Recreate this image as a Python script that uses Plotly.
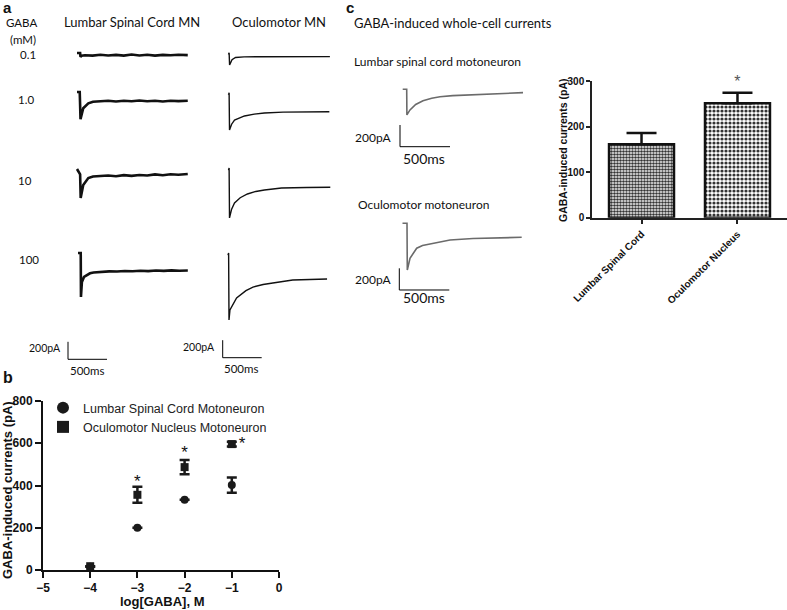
import plotly.graph_objects as go

W, H = 787, 610

# ---------------- Data ----------------
# Panel a: example current traces (time in ms, current in pA relative to holding level)
L01_T = [0, 40, 45, 60, 100, 200, 300, 400, 500, 600, 700, 800, 900, 1000, 1100, 1200, 1300, 1420]
L01_I = [0, 0, -45, -30, -25, -30, -20, -28, -22, -30, -18, -28, -20, -30, -22, -26, -20, -24]
L1_T = [0, 35, 40, 45, 80, 145, 205, 300, 400, 500, 600, 700, 800, 900, 1000, 1100, 1200, 1300, 1420]
L1_I = [0, 0, -150, -310, -186, -130, -111, -105, -100, -108, -100, -106, -98, -106, -100, -108, -100, -104, -100]
L10_T = [0, 20, 40, 47, 80, 145, 205, 300, 400, 500, 600, 700, 800, 900, 1000, 1100, 1200, 1300, 1420]
L10_I = [0, -40, -60, -330, -183, -103, -85, -80, -75, -82, -70, -78, -68, -75, -62, -72, -60, -66, -57]
L100_T = [0, 35, 38, 50, 77, 115, 154, 200, 282, 400, 500, 600, 700, 800, 900, 1000, 1100, 1200, 1300, 1408]
L100_I = [0, 0, -503, -330, -274, -250, -232, -222, -214, -210, -212, -205, -208, -203, -207, -200, -204, -198, -202, -200]

O01_T = [0, 8, 14, 45, 90, 200, 400, 600, 800, 1000, 1300]
O01_I = [-20, 0, -140, -80, -55, -48, -46, -45, -46, -44, -45]
O1_T = [0, 8, 13, 40, 77, 140, 205, 330, 460, 700, 1000, 1293]
O1_I = [-25, 0, -426, -360, -312, -285, -266, -245, -232, -222, -218, -217]
O10_T = [0, 8, 13, 40, 77, 150, 243, 350, 460, 680, 1000, 1305]
O10_I = [-25, 0, -571, -470, -400, -340, -297, -268, -251, -229, -222, -220]
O100_T = [0, 8, 13, 25, 110, 155, 230, 320, 450, 575, 830, 1270]
O100_I = [-25, 0, -766, -650, -514, -480, -430, -389, -360, -343, -309, -297]

# Panel c: example traces
CL_T = [0, 40, 42, 73, 130, 203, 290, 373, 500, 703, 900, 1100, 1203]
CL_I = [0, 0, -236, -190, -140, -105, -82, -68, -58, -50, -40, -35, -31]
CO_T = [0, 45, 48, 75, 142, 200, 275, 475, 705, 900, 1192]
CO_I = [0, 0, -430, -322, -230, -205, -190, -154, -140, -133, -129]

SCALE_MS = 500
SCALE_PA = 200

# Panel b: dose-response
LOG_GABA = [-4, -3, -2, -1]
LUMBAR_MEAN = [15, 200, 333, 402]
LUMBAR_ERR = [0, 0, 0, 36]
OCULO_MEAN = [18, 356, 487, 596]
OCULO_ERR = [0, 38, 34, 11]
STAR_B_X = [-3, -2, -0.78]
STAR_B_Y = [412, 550, 592]

# Panel c: bar chart
BAR_CATS = ["Lumbar Spinal Cord", "Oculomotor Nucleus"]
BAR_VALS = [161, 251]
BAR_ERR = [25, 23]
STAR_C_VAL = 296

# ---------------- Helpers ----------------
fig = go.Figure()
axes = {}
count = [0]


def new_axes(x0, y0, left, right, up, down, mspp, papp, visible=False):
    count[0] += 1
    n = count[0]
    s = '' if n == 1 else str(n)
    axes['xaxis' + s] = dict(domain=[max(0, (x0 - left) / W), min(1, (x0 + right) / W)],
                             range=[-left * mspp, right * mspp], visible=visible,
                             anchor='y' + s, fixedrange=True, automargin=False)
    axes['yaxis' + s] = dict(domain=[max(0, 1 - (y0 + down) / H), min(1, 1 - (y0 - up) / H)],
                             range=[-down * papp, up * papp], visible=visible,
                             anchor='x' + s, fixedrange=True, automargin=False)
    return 'x' + s, 'y' + s


def add_trace_line(t, i, x0, y0, mspp, papp, color, width):
    dur_px = max(t) / mspp
    xa, ya = new_axes(x0, y0, 6, dur_px + 6, 10, 80, mspp, papp)
    fig.add_trace(go.Scatter(x=t, y=i, mode='lines', line=dict(color=color, width=width),
                             xaxis=xa, yaxis=ya, showlegend=False, hoverinfo='skip'))


def add_scale_bar(x0, y0, mspp, papp):
    xa, ya = new_axes(x0, y0, 3, SCALE_MS / mspp + 3, SCALE_PA / papp + 3, 3, mspp, papp)
    fig.add_trace(go.Scatter(x=[0, 0, SCALE_MS], y=[SCALE_PA, 0, 0], mode='lines',
                             line=dict(color='black', width=1), xaxis=xa, yaxis=ya,
                             showlegend=False, hoverinfo='skip'))


annots = []


def text(t, x, y, size, family='Lato', xanchor='left', color='#111', bold=False, angle=0):
    annots.append(dict(text=t, x=x / W, y=1 - y / H, xref='paper', yref='paper',
                       xanchor=xanchor, yanchor='middle', showarrow=False, textangle=angle,
                       font=dict(size=size, family=family, color=color,
                                 weight='bold' if bold else 'normal')))


ARIAL = 'Liberation Sans'

# ---------------- Panel b (scatter) ----------------
count[0] = 1
axes['xaxis'] = dict(domain=[43 / W, 279 / W], range=[-5, 0], dtick=1, showline=True,
                     linecolor='#111', linewidth=2, ticks='outside', ticklen=6, tickwidth=2,
                     tickcolor='#111', showgrid=False, zeroline=False, anchor='y',
                     tickfont=dict(family=ARIAL, size=12, color='#111', weight='bold'),
                     fixedrange=True, automargin=False)
axes['yaxis'] = dict(domain=[1 - 570 / H, 1 - 401 / H], range=[0, 800], dtick=200, showline=True,
                     linecolor='#111', linewidth=2, ticks='outside', ticklen=6, tickwidth=2,
                     tickcolor='#111', showgrid=False, zeroline=False, anchor='x',
                     tickfont=dict(family=ARIAL, size=12, color='#111', weight='bold'),
                     fixedrange=True, automargin=False)
fig.add_trace(go.Scatter(x=LOG_GABA, y=LUMBAR_MEAN, mode='markers', name='Lumbar Spinal Cord Motoneuron',
                         marker=dict(symbol='circle', size=8, color='#1a1a1a'),
                         error_y=dict(type='data', array=LUMBAR_ERR, color='#1a1a1a', thickness=2.5, width=5),
                         xaxis='x', yaxis='y', cliponaxis=False))
fig.add_trace(go.Scatter(x=LOG_GABA, y=OCULO_MEAN, mode='markers', name='Oculomotor Nucleus Motoneuron',
                         marker=dict(symbol='square', size=8, color='#1a1a1a'),
                         error_y=dict(type='data', array=OCULO_ERR, color='#1a1a1a', thickness=2.5, width=5),
                         xaxis='x', yaxis='y', cliponaxis=False))
fig.add_trace(go.Scatter(x=STAR_B_X, y=STAR_B_Y, mode='text', text=['*'] * len(STAR_B_X),
                         textfont=dict(size=17, family=ARIAL, color='#111'),
                         xaxis='x', yaxis='y', showlegend=False, hoverinfo='skip', cliponaxis=False))

# ---------------- Panel c (bar chart) ----------------
count[0] = 2
axes['xaxis2'] = dict(domain=[592 / W, 1.0], range=[-0.516, 1.516], type='category', showline=True,
                      linecolor='#222', linewidth=1.5, ticks='outside', ticklen=5, tickwidth=1.5,
                      tickcolor='#222', tickangle=-45, showgrid=False, zeroline=False, anchor='y2',
                      tickfont=dict(family=ARIAL, size=10, color='#111', weight='bold'),
                      fixedrange=True, automargin=False)
axes['yaxis2'] = dict(domain=[1 - 217.7 / H, 1 - 81 / H], range=[0, 300], dtick=100, showline=True,
                      linecolor='#222', linewidth=1.5, ticks='outside', ticklen=4, tickwidth=1.5,
                      tickcolor='#222', showgrid=False, zeroline=False, anchor='x2',
                      tickfont=dict(family=ARIAL, size=10, color='#111', weight='bold'),
                      fixedrange=True, automargin=False)
fig.add_trace(go.Bar(x=[BAR_CATS[0]], y=[BAR_VALS[0]], width=0.677,
                     marker=dict(color='white', line=dict(color='#111', width=2.5),
                                 pattern=dict(shape='.', fgcolor='#333', bgcolor='white', size=3,
                                              solidity=0.6, fillmode='replace')),
                     error_y=dict(type='data', symmetric=False, array=[BAR_ERR[0]], arrayminus=[0],
                                  color='#111', thickness=2.5, width=15),
                     xaxis='x2', yaxis='y2', showlegend=False))
fig.add_trace(go.Bar(x=[BAR_CATS[1]], y=[BAR_VALS[1]], width=0.677,
                     marker=dict(color='white', line=dict(color='#111', width=2.5),
                                 pattern=dict(shape='.', fgcolor='#333', bgcolor='white', size=4,
                                              solidity=0.5, fillmode='replace')),
                     error_y=dict(type='data', symmetric=False, array=[BAR_ERR[1]], arrayminus=[0],
                                  color='#111', thickness=2.5, width=15),
                     xaxis='x2', yaxis='y2', showlegend=False))
fig.add_trace(go.Scatter(x=[BAR_CATS[1]], y=[STAR_C_VAL], mode='text', text=['*'],
                         textfont=dict(size=16, family=ARIAL, color='#555'),
                         xaxis='x2', yaxis='y2', showlegend=False, hoverinfo='skip', cliponaxis=False))

# ---------------- Panel a traces ----------------
MSPP_A = 500 / 39.0
PAPP_A = 200 / 17.5
for t, i, x0, y0 in [(L01_T, L01_I, 77, 53), (L1_T, L1_I, 77, 92), (L10_T, L10_I, 77, 169),
                     (L100_T, L100_I, 78, 253)]:
    add_trace_line(t, i, x0, y0, MSPP_A, PAPP_A, '#111', 2.6)
for t, i, x0, y0 in [(O01_T, O01_I, 228.5, 52.7), (O1_T, O1_I, 228.5, 92.7), (O10_T, O10_I, 228.5, 168),
                     (O100_T, O100_I, 228, 253)]:
    add_trace_line(t, i, x0, y0, MSPP_A, PAPP_A, '#111', 1.4)
add_scale_bar(68, 359.3, MSPP_A, PAPP_A)
add_scale_bar(222.7, 357.7, MSPP_A, PAPP_A)

# ---------------- Panel c traces ----------------
MSPP_C = 10.0
PAPP_C = 200 / 21.7
add_trace_line(CL_T, CL_I, 402.7, 89.3, MSPP_C, PAPP_C, '#6b6b6b', 1.6)
add_trace_line(CO_T, CO_I, 402.5, 223.3, MSPP_C, PAPP_C, '#6b6b6b', 1.6)
add_scale_bar(400, 146.7, MSPP_C, PAPP_C)
add_scale_bar(399.3, 290, MSPP_C, PAPP_C)

# ---------------- Text ----------------
text('a', 1, 8, 15, ARIAL, bold=True)
text('b', 1, 377, 16, ARIAL, bold=True)
text('c', 344, 8, 15, ARIAL, bold=True)

text('GABA', 21, 23, 11.5, xanchor='center')
text('(mM)', 23, 40, 11.5, xanchor='center')
text('0.1', 28, 54, 11.5, xanchor='center')
text('1.0', 26.5, 100, 11.5, xanchor='center')
text('10', 25, 180, 11.5, xanchor='center')
text('100', 28.5, 259, 11.5, xanchor='center')
text('Lumbar Spinal Cord MN', 131.5, 22, 13, xanchor='center')
text('Oculomotor MN', 279, 22, 13, xanchor='center')

text('200pA', 63, 348, 10.5, xanchor='right')
text('500ms', 86.5, 370, 11.5, xanchor='center')
text('200pA', 217, 347, 10.5, xanchor='right')
text('500ms', 241, 368, 11.5, xanchor='center')

text('GABA-induced whole-cell currents', 352, 23, 13)
text('Lumbar spinal cord motoneuron', 352, 62, 12)
text('Oculomotor motoneuron', 356, 204, 12)
text('200pA', 393, 137, 12, xanchor='right')
text('500ms', 424, 158, 14, xanchor='center')
text('200pA', 393, 279, 12, xanchor='right')
text('500ms', 424, 298, 14, xanchor='center')

# axis titles
text('GABA-induced currents (pA)', 7, 490, 13, ARIAL, xanchor='center', bold=True, angle=-90)
text('log[GABA], M', 162, 601.5, 13, ARIAL, xanchor='center', bold=True)
text('GABA-induced currents (pA)', 563, 150, 10.5, ARIAL, xanchor='center', bold=True, angle=-90)

fig.update_layout(
    template='none',
    width=W, height=H, margin=dict(l=0, r=0, t=0, b=0, autoexpand=False),
    paper_bgcolor='white', plot_bgcolor='rgba(0,0,0,0)',
    showlegend=True,
    legend=dict(x=43 / W, y=1 - 393 / H, xanchor='left', yanchor='top',
                bgcolor='rgba(0,0,0,0)', font=dict(family=ARIAL, size=12.5, color='#222'),
                tracegroupgap=0, itemsizing='constant'),
    annotations=annots,
    barmode='overlay',
    **axes,
)

fig.write_html('out.html', config={'displayModeBar': False},
               post_script="document.body.style.margin='0';document.body.style.padding='0';")
